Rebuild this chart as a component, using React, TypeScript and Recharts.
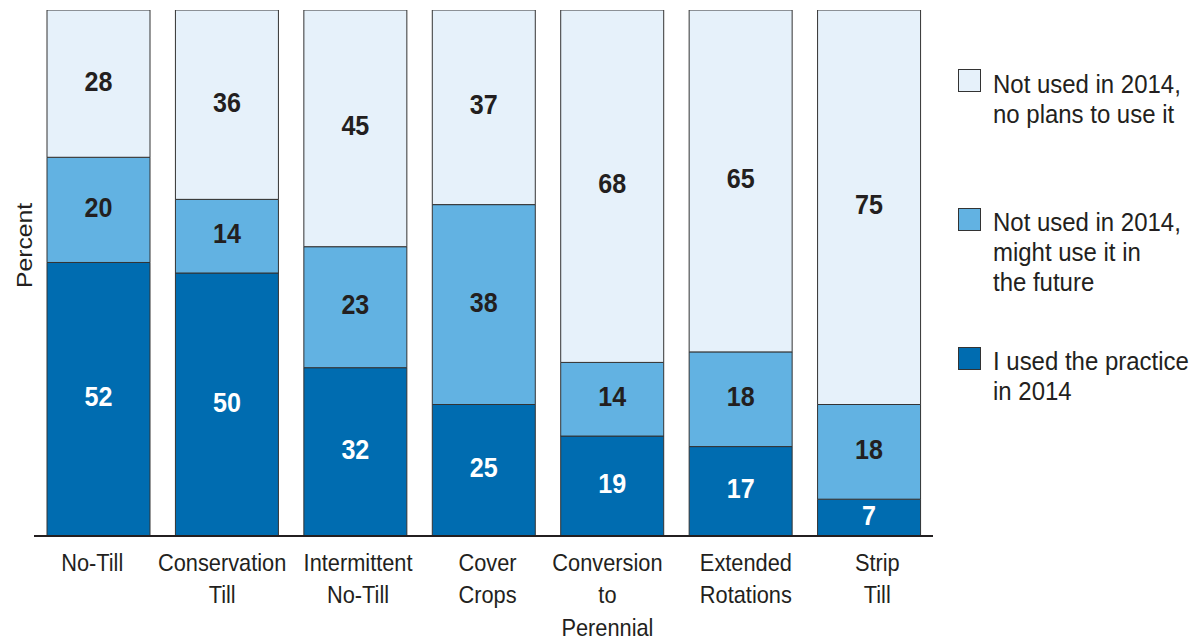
import React from 'react';
import { BarChart, Bar, XAxis, YAxis, LabelList } from 'recharts';

const categories = ['No-Till', 'Conservation\nTill', 'Intermittent\nNo-Till', 'Cover\nCrops', 'Conversion\nto\nPerennial', 'Extended\nRotations', 'Strip\nTill'];
const usedIn2014 = [52, 50, 32, 25, 19, 17, 7];
const mightUse = [20, 14, 23, 38, 14, 18, 18];
const noPlans = [28, 36, 45, 37, 68, 65, 75];

const seriesNames = ['Not used in 2014,\nno plans to use it', 'Not used in 2014,\nmight use it in\nthe future', 'I used the practice\nin 2014'];
const COLORS = { dark: '#006CB0', mid: '#62B2E2', light: '#E6F1FA' };
const TEXT = '#231F20';
const FONT = 'Liberation Sans, Arial, sans-serif';
const SQUISH = 0.9;
// small horizontal nudges of the category labels, as in the original layout
const tickNudge = [-6, -4.5, 3, 4, -4.5, 5.5, 8.5];

const data = categories.map((c, i) => ({
  name: c,
  used: usedIn2014[i],
  might: mightUse[i],
  none: noPlans[i],
}));

const Tick = (props: any) => {
  const { x, y, payload, index } = props;
  const lines = String(payload.value).split('\n');
  const nx = x + (tickNudge[index] || 0);
  return (
    <text transform={`translate(${nx},${y + 35}) scale(${SQUISH},1)`} textAnchor="middle" fontFamily={FONT} fontSize={24.2} fill={TEXT}>
      {lines.map((l, i) => (
        <tspan key={i} x={0} y={i * 32.5}>{l}</tspan>
      ))}
    </text>
  );
};

const makeLabel = (color: string) => (props: any) => {
  const { x, y, width, height, value } = props;
  return (
    <text transform={`translate(${x + width / 2},${y + height / 2 + 7}) scale(0.93,1)`} textAnchor="middle" fontFamily={FONT} fontWeight="bold" fontSize={27} fill={color}>
      {value}
    </text>
  );
};

const legendItems = [
  { color: COLORS.light, label: seriesNames[0], sq: 61, base: 85 },
  { color: COLORS.mid, label: seriesNames[1], sq: 200, base: 223 },
  { color: COLORS.dark, label: seriesNames[2], sq: 339, base: 362 },
];

export default function App() {
  return (
    <div style={{ position: 'relative', width: 1190, height: 632 }}>
      <BarChart width={1190} height={632} data={data} margin={{ top: 2, right: 265, bottom: 0, left: 26 }}>
        <YAxis hide domain={[0, 100]} allowDataOverflow />
        <XAxis dataKey="name" height={104} axisLine={{ stroke: TEXT, strokeWidth: 2 }} tickLine={false} tickSize={0} tickMargin={0} interval={0} tick={<Tick />} />
        <Bar dataKey="used" stackId="a" fill={COLORS.dark} stroke="#333" strokeWidth={1} barSize={103} isAnimationActive={false}>
          <LabelList dataKey="used" content={makeLabel('#FFFFFF')} />
        </Bar>
        <Bar dataKey="might" stackId="a" fill={COLORS.mid} stroke="#333" strokeWidth={1} barSize={103} isAnimationActive={false}>
          <LabelList dataKey="might" content={makeLabel(TEXT)} />
        </Bar>
        <Bar dataKey="none" stackId="a" fill={COLORS.light} stroke="#333" strokeWidth={1} barSize={103} isAnimationActive={false}>
          <LabelList dataKey="none" content={makeLabel(TEXT)} />
        </Bar>
      </BarChart>
      <svg width={1190} height={632} style={{ position: 'absolute', left: 0, top: 0, pointerEvents: 'none', overflow: 'visible' }}>
        <text transform="translate(24,237.5) rotate(-90) scale(1,0.9)" textAnchor="middle" fontFamily={FONT} fontSize={24.7} fill={TEXT}>Percent</text>
        {legendItems.map((it, i) => (
          <g key={i}>
            <rect x={950.5} y={it.sq + 0.5} width={22} height={22} fill={it.color} stroke="#333" strokeWidth={1} />
            <text transform={`translate(985,${it.base}) scale(0.94,1)`} fontFamily={FONT} fontSize={25.5} fill={TEXT}>
              {it.label.split('\n').map((l, j) => (
                <tspan key={j} x={0} y={j * 30}>{l}</tspan>
              ))}
            </text>
          </g>
        ))}
      </svg>
    </div>
  );
}
